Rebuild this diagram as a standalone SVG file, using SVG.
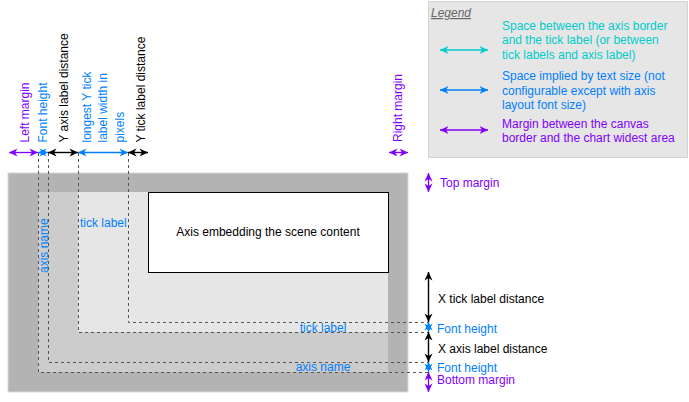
<svg xmlns="http://www.w3.org/2000/svg" width="689" height="402" viewBox="0 0 689 402">
<style>
text{font-family:"Liberation Sans",Arial,sans-serif;font-size:12px}
.k{fill:#000}.b{fill:#007FFF}.p{fill:#7F00FF}.c{fill:#00CCCC}
.dash{fill:none;stroke:#555;stroke-width:1;stroke-dasharray:3 3}
.ak{stroke:#000;stroke-width:1.4;marker-start:url(#mk);marker-end:url(#mk)}
.ab{stroke:#007FFF;stroke-width:1.3;marker-start:url(#mb);marker-end:url(#mb)}
.ap{stroke:#7F00FF;stroke-width:1.3;marker-start:url(#mp);marker-end:url(#mp)}
.ac{stroke:#00CCCC;stroke-width:1.3;marker-start:url(#mc);marker-end:url(#mc)}
</style>
<defs>
<marker id="mk" markerUnits="userSpaceOnUse" markerWidth="10" markerHeight="10" viewBox="0 0 10 10" refX="9" refY="5" orient="auto-start-reverse"><path d="M0.5,1 L9,5 L0.5,9 L3,5 z" fill="#000"/></marker>
<marker id="mb" markerUnits="userSpaceOnUse" markerWidth="10" markerHeight="10" viewBox="0 0 10 10" refX="9" refY="5" orient="auto-start-reverse"><path d="M0.5,1 L9,5 L0.5,9 L3,5 z" fill="#007FFF"/></marker>
<marker id="mp" markerUnits="userSpaceOnUse" markerWidth="10" markerHeight="10" viewBox="0 0 10 10" refX="9" refY="5" orient="auto-start-reverse"><path d="M0.5,1 L9,5 L0.5,9 L3,5 z" fill="#7F00FF"/></marker>
<marker id="mc" markerUnits="userSpaceOnUse" markerWidth="10" markerHeight="10" viewBox="0 0 10 10" refX="9" refY="5" orient="auto-start-reverse"><path d="M0.5,1 L9,5 L0.5,9 L3,5 z" fill="#00CCCC"/></marker>
</defs>
<rect width="689" height="402" fill="#fff"/>
<g id="canvas">
<rect x="8" y="173" width="400" height="219" fill="#B3B3B3" stroke="#D6D6D6" stroke-width="1"/>
</g>
<g id="axis-name-area">
<rect x="38" y="192" width="350" height="180" fill="#CCCCCC"/>
</g>
<g id="tick-label-area">
<rect x="78" y="192" width="310" height="140" fill="#E6E6E6"/>
</g>
<g id="axis-box">
<rect x="148.5" y="192.5" width="240" height="80" fill="#fff" stroke="#000" stroke-width="1"/>
<text x="268" y="236" text-anchor="middle" class="k">Axis embedding the scene content</text>
</g>
<g id="guides">
<path class="dash" d="M38.5,153 V372.5 H428"/>
<path class="dash" d="M48.5,153 V362.5 H428"/>
<path class="dash" d="M78.5,153 V332.5 H428"/>
<path class="dash" d="M128.5,153 V322.5 H428"/>
</g>
<g id="area-labels">
<text x="80" y="226.5" class="b">tick label</text>
<text transform="translate(47.5,273) rotate(-90)" class="b">axis name</text>
<text x="323" y="332" text-anchor="middle" class="b">tick label</text>
<text x="323" y="371" text-anchor="middle" class="b">axis name</text>
</g>
<g id="top-labels">
<text transform="translate(28.5,142.5) rotate(-90)" class="p">Left margin</text>
<text transform="translate(46.7,142.5) rotate(-90)" class="b">Font height</text>
<text transform="translate(68,142.5) rotate(-90)" class="k">Y axis label distance</text>
<text transform="translate(90.8,142.5) rotate(-90)" class="b">longest Y tick</text>
<text transform="translate(107.2,142.5) rotate(-90)" class="b">label width in</text>
<text transform="translate(123.6,142.5) rotate(-90)" class="b">pixels</text>
<text transform="translate(144.5,142.5) rotate(-90)" class="k">Y tick label distance</text>
<text transform="translate(401.5,142) rotate(-90)" class="p">Right margin</text>
</g>
<g id="right-labels">
<text x="440" y="187" class="p">Top margin</text>
<text x="438" y="303.3" class="k">X tick label distance</text>
<text x="437" y="333" class="b">Font height</text>
<text x="438" y="353.3" class="k">X axis label distance</text>
<text x="437" y="371.7" class="b">Font height</text>
<text x="437" y="384.3" class="p">Bottom margin</text>
</g>
<g id="legend">
<rect x="428.5" y="1.5" width="259" height="156" fill="#E6E6E6" stroke="#D4D4D4" stroke-width="1"/>
<text x="431" y="17" fill="#666" font-style="italic" text-decoration="underline">Legend</text>
<text x="502" y="30" class="c">Space between the axis border</text>
<text x="502" y="44.3" class="c">and the tick label (or between</text>
<text x="502" y="58.6" class="c">tick labels and axis label)</text>
<text x="502" y="80.3" class="b">Space implied by text size (not</text>
<text x="502" y="94.6" class="b">configurable except with axis</text>
<text x="502" y="109" class="b">layout font size)</text>
<text x="502" y="128.4" class="p">Margin between the canvas</text>
<text x="502" y="142" class="p">border and the chart widest area</text>
</g>
<g id="connectors">
<line class="ac" x1="440" y1="50" x2="488" y2="50"/>
<line class="ab" x1="440" y1="90" x2="488" y2="90"/>
<line class="ap" x1="440" y1="130" x2="488" y2="130"/>
<line class="ap" x1="9" y1="152.5" x2="38" y2="152.5"/>
<line class="ab" x1="38" y1="152.5" x2="48" y2="152.5"/>
<line class="ak" x1="48" y1="152.5" x2="78" y2="152.5"/>
<line class="ab" x1="78" y1="152.5" x2="128" y2="152.5"/>
<line class="ak" x1="128" y1="152.5" x2="148" y2="152.5"/>
<line class="ap" x1="389" y1="152.5" x2="408" y2="152.5"/>
<line class="ap" x1="428.5" y1="173" x2="428.5" y2="192"/>
<line class="ak" x1="428.5" y1="272" x2="428.5" y2="322"/>
<line class="ab" x1="428.5" y1="322" x2="428.5" y2="332"/>
<line class="ak" x1="428.5" y1="332" x2="428.5" y2="362"/>
<line class="ab" x1="428.5" y1="362" x2="428.5" y2="372"/>
<line class="ap" x1="428.5" y1="372" x2="428.5" y2="392"/>
</g>
</svg>
